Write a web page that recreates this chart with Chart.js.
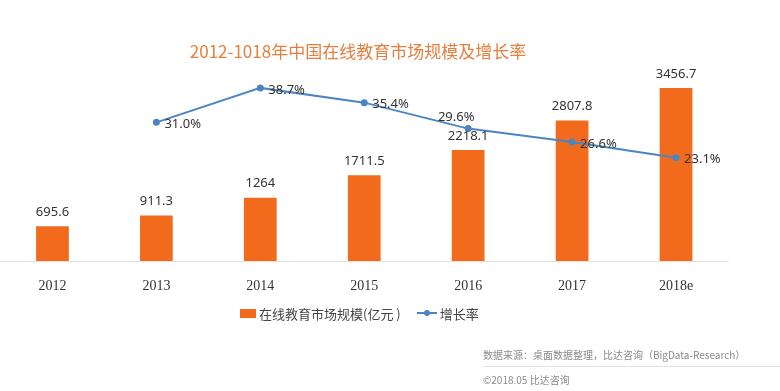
<!DOCTYPE html>
<html>
<head>
<meta charset="utf-8">
<script src="https://cdn.jsdelivr.net/npm/chart.js@4/dist/chart.umd.min.js"></script>
<style>
  html, body { margin: 0; padding: 0; background: #fff; }
  body { width: 780px; height: 391px; position: relative; overflow: hidden;
         font-family: "Noto Sans CJK SC", "Noto Sans", sans-serif; }
  #wrap { position: absolute; left: -4px; top: 0; width: 784px; height: 391px; }
  #titulo { position: absolute; left: 0; width: 716px; top: 38px; text-align: center;
            font-size: 17px; color: #E6803F; }
  #leyenda { position: absolute; top: 302px; left: 240px; font-size: 13px; color: #444;
             white-space: nowrap; }
  #leyenda span { display: inline-block; vertical-align: middle; }
  .caja { width: 16px; height: 9px; background: #F26B1D; margin-right: 3px; }
  .linea { width: 20px; height: 2px; background: #4A86C2; position: relative; margin: 0 3px 0 16px; }
  .linea i { position: absolute; left: 7px; top: -2px; width: 6px; height: 6px; border-radius: 50%;
             background: #4A86C2; }
  #fuente { position: absolute; left: 483px; top: 347px; width: 297px; font-size: 10px; color: #8a8a8a; }
  #fuente div.sep { border-top: 1px solid #e2e2e2; margin: 4px 0 5px 0; }
</style>
</head>
<body>
<div id="wrap"><canvas id="grafica"></canvas></div>
<div id="titulo">2012-1018年中国在线教育市场规模及增长率</div>
<div id="leyenda"></div>
<div id="fuente">
  <div>数据来源：桌面数据整理，比达咨询（BigData-Research）</div>
  <div class="sep"></div>
  <div>©2018.05 比达咨询</div>
</div>
<script>
const years = ['2012', '2013', '2014', '2015', '2016', '2017', '2018e'];
const marketSize = [695.6, 911.3, 1264, 1711.5, 2218.1, 2807.8, 3456.7];
const growthRate = [null, 31.0, 38.7, 35.4, 29.6, 26.6, 23.1];
const sizeLabel = '在线教育市场规模(亿元 )';
const rateLabel = '增长率';

const naranja = '#F26B1D';
const azul = '#4A86C2';

// where each growth label sits relative to its point
const rateLabelPos = ['right', 'right', 'right', 'right', 'above', 'right', 'right'];

const graph = document.querySelector('#grafica');

const etiquetas = {
	id: 'etiquetas',
	afterDatasetsDraw(chart) {
		const ctx = chart.ctx;
		ctx.save();
		ctx.fillStyle = '#333';
		ctx.font = '13px "Noto Sans", sans-serif';
		ctx.textAlign = 'center';
		ctx.textBaseline = 'middle';
		chart.getDatasetMeta(1).data.forEach((bar, i) => {
			ctx.fillText(String(marketSize[i]), bar.x, bar.y - 14);
		});
		chart.getDatasetMeta(0).data.forEach((pt, i) => {
			if (growthRate[i] === null) return;
			const txt = growthRate[i].toFixed(1) + '%';
			if (rateLabelPos[i] === 'above') {
				ctx.textAlign = 'center';
				ctx.fillText(txt, pt.x - 12, pt.y - 11);
			} else {
				ctx.textAlign = 'left';
				ctx.fillText(txt, pt.x + 8, pt.y + 2);
			}
		});
		ctx.restore();
	}
};

const data = {
	labels: years,
	datasets: [{
		type: 'line',
		label: rateLabel,
		data: growthRate,
		yAxisID: 'y2',
		borderColor: azul,
		backgroundColor: azul,
		borderWidth: 2,
		pointRadius: 2.5,
		pointHoverRadius: 2.5,
		tension: 0,
		spanGaps: false,
		order: 0
	}, {
		type: 'bar',
		label: sizeLabel,
		data: marketSize,
		yAxisID: 'y',
		backgroundColor: naranja,
		categoryPercentage: 1,
		barPercentage: 0.315,
		order: 1
	}]
};

const config = {
	data: data,
	plugins: [etiquetas],
	options: {
		responsive: true,
		maintainAspectRatio: false,
		animation: false,
		layout: { padding: { top: 70, right: 52, left: 0, bottom: 0 } },
		plugins: {
			legend: { display: false },
			title: { display: false },
			tooltip: { enabled: false }
		},
		scales: {
			x: {
				grid: { display: false },
				border: { display: true, color: '#e3e3e3' },
				ticks: {
					color: '#333',
					padding: 9,
					font: { family: '"Liberation Serif", serif', size: 14 }
				},
				afterFit(scale) { scale.height = 130; }
			},
			y: { display: false, min: 0, max: 3816 },
			y2: { display: false, min: 0, max: 42.7, position: 'right' }
		}
	}
};
new Chart(graph, config);

// leyenda en HTML
document.querySelector('#leyenda').innerHTML =
	'<span class="caja"></span><span>' + sizeLabel + '</span>' +
	'<span class="linea"><i></i></span><span>' + rateLabel + '</span>';
</script>
</body>
</html>
